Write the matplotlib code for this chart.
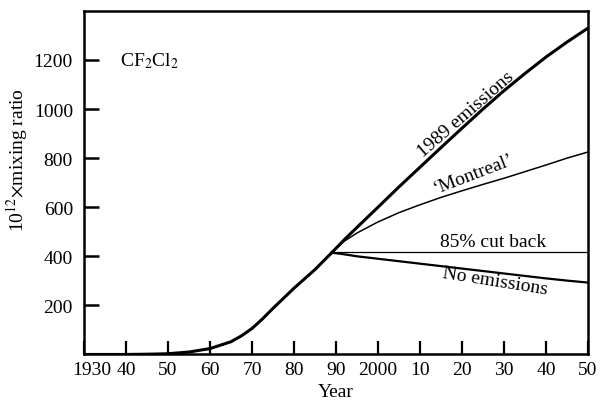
"""
CF2Cl2 mixing ratio: history and projected scenarios to 2050.
Output: out.png
"""
import matplotlib
matplotlib.use('Agg')
import matplotlib.pyplot as plt
import matplotlib.transforms as mtransforms

plt.rcParams['font.family'] = ['Liberation Serif', 'DejaVu Serif']
plt.rcParams['mathtext.fontset'] = 'stix'

# ── values ──
hist_years = [1930, 1940, 1945, 1950, 1955, 1960, 1965, 1967.5, 1970, 1972.5,
              1975, 1980, 1985, 1989]
hist_vals = [0, 0, 1, 3, 10, 24, 52, 76, 106, 145, 188, 270, 346, 415]

proj_years = [1989, 1992, 1995, 2000, 2005, 2010, 2015, 2020, 2025, 2030, 2035, 2040, 2045, 2050]
emis_1989 = [415, 468, 518, 600, 683, 763, 843, 922, 1000, 1075, 1145, 1212, 1273, 1330]
montreal = [415, 462, 495, 540, 578, 610, 640, 667, 693, 718, 745, 772, 800, 825]
no_emis = [415, 408, 400, 390, 380, 370, 360, 350, 340, 330, 320, 310, 301, 293]

cut_years = [1989, 2050]
cut_85 = [418, 418]

xticks = list(range(1930, 2051, 10))
xticklabels = ['1930', '40', '50', '60', '70', '80', '90', '2000',
               '10', '20', '30', '40', '50']
yticks = [200, 400, 600, 800, 1000, 1200]

fig = plt.figure(figsize=(6, 4.1), dpi=100)
ax = fig.add_axes([0.14, 0.133, 0.84, 0.838])

ax.plot(hist_years, hist_vals, color='black', lw=2.2, solid_capstyle='round')
ax.plot(proj_years, emis_1989, color='black', lw=2.2)
ax.plot(proj_years, montreal, color='black', lw=1.1)
ax.plot(cut_years, cut_85, color='black', lw=0.9)
ax.plot(proj_years, no_emis, color='black', lw=1.6)

ax.set_xlim(1930, 2050)
ax.set_ylim(0, 1400)
ax.set_xticks(xticks)
ax.set_xticklabels(xticklabels)
ax.set_yticks(yticks)

for sp in ax.spines.values():
    sp.set_linewidth(1.8)

ax.tick_params(axis='x', direction='in', length=9.5, width=1.6, pad=5, labelsize=14)
ax.tick_params(axis='y', direction='in', length=11, width=1.8, pad=8, labelsize=14)

# first year label sits a little right of the corner
lab0 = ax.get_xticklabels()[0]
lab0.set_transform(lab0.get_transform() +
                   mtransforms.ScaledTranslation(8 / 100, 0, fig.dpi_scale_trans))

ax.set_xlabel('Year', fontsize=14, labelpad=3)
ax.set_ylabel(r'10$^{12}$$\times$mixing ratio', fontsize=14)
ax.yaxis.set_label_coords(-0.107, 0.57)

ax.text(1938.6, 1200, r'CF$_2$Cl$_2$', fontsize=14, va='center', ha='left')

ax.text(2020.8, 980, '1989 emissions', fontsize=14, rotation=41,
        ha='center', va='center', rotation_mode='anchor')
ax.text(2022.7, 735, '\u2018Montreal\u2019', fontsize=14, rotation=21,
        ha='center', va='center', rotation_mode='anchor')
ax.text(2027.5, 462, '85% cut back', fontsize=14, ha='center', va='center')
ax.text(2028, 298, 'No emissions', fontsize=14, rotation=-9,
        ha='center', va='center', rotation_mode='anchor')

fig.savefig('out.png', dpi=100)
plt.close(fig)
